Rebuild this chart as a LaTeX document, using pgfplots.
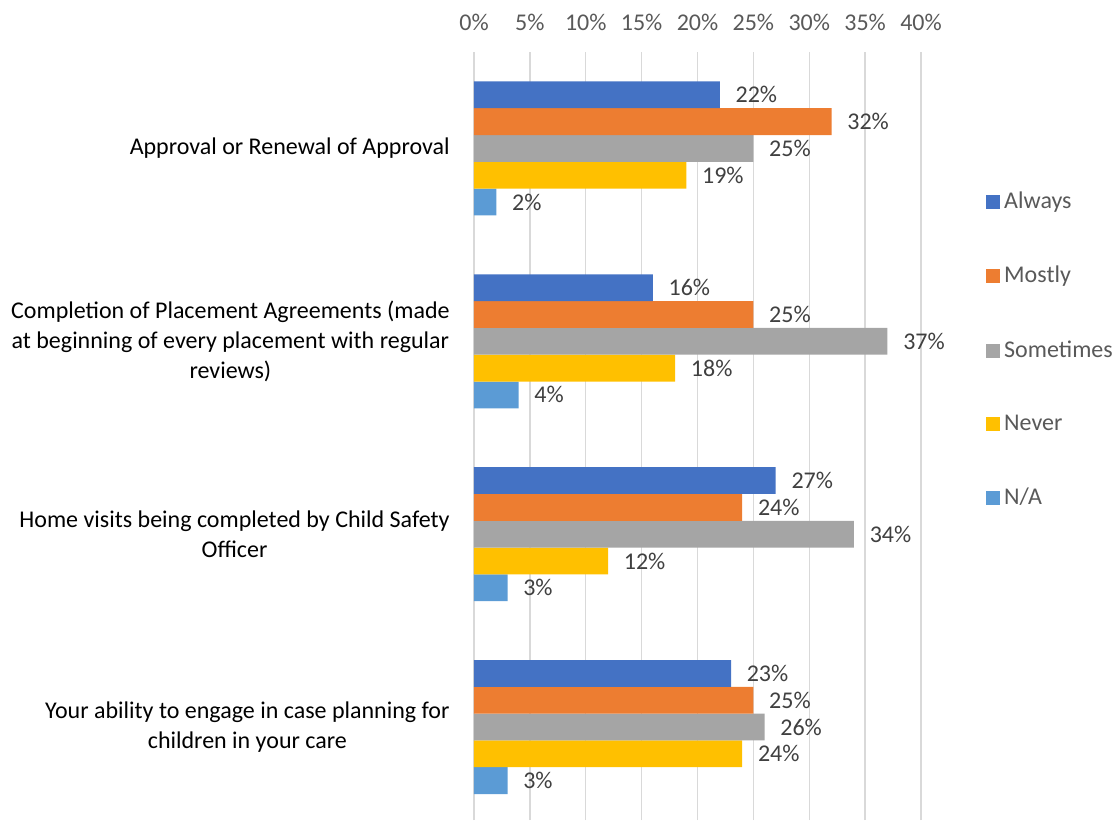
\documentclass[border=0pt]{standalone}
\usepackage{pgfplots}
\pgfplotsset{compat=1.18}
\usepackage{fontspec}
\setmainfont{Carlito}

\definecolor{cAlways}{HTML}{4472C4}
\definecolor{cMostly}{HTML}{ED7D31}
\definecolor{cSometimes}{HTML}{A5A5A5}
\definecolor{cNever}{HTML}{FFC000}
\definecolor{cNA}{HTML}{5B9BD5}
\definecolor{gridgray}{HTML}{D9D9D9}
\definecolor{tickgray}{HTML}{595959}
\definecolor{labelgray}{HTML}{404040}

\newcommand\cf{\fontsize{12}{15}\selectfont}

% square legend swatch
\pgfplotsset{sqleg/.style={legend image code/.code={\fill[##1] (0pt,-3.5pt) rectangle (7pt,3.5pt);}}}

\begin{document}
\cf
\begin{tikzpicture}
\path[use as bounding box] (-237pt,0pt) rectangle (321.5pt,410pt);
\begin{axis}[
    at={(0pt,0pt)}, anchor=south west,
    scale only axis, width=223.5pt, height=384pt,
    xbar=0pt, bar width=13.4pt,
    xmin=0, xmax=40, ymin=-0.482, ymax=3.5,
    axis line style={draw=none},
    xmajorgrids,
    major grid style={color=gridgray, line width=0.75pt},
    major tick length=0pt,
    xtick={0,5,...,40},
    xticklabel={\pgfmathprintnumber{\tick}\%},
    xticklabel pos=upper,
    xticklabel style={text=tickgray, font=\cf, yshift=6.5pt},
    ytick={0,1,2,3},
    yticklabels={{Your ability to engage in case planning for\\children in your care},
                 {Home visits being completed by Child Safety\\Officer},
                 {Completion of Placement Agreements (made\\at beginning of every placement with regular\\reviews)},
                 {Approval or Renewal of Approval}},
    yticklabel style={align=center, text=black, font=\cf, xshift=-8pt},
    /pgf/number format/assume math mode=true,
    point meta=x,
    nodes near coords={\pgfmathprintnumber{\pgfplotspointmeta}\%},
    every node near coord/.append style={anchor=west, xshift=3.7pt, text=labelgray, font=\cf},
    reverse legend,
    legend cell align=left,
    legend style={at={(1.145,0.612)}, anchor=west, draw=none, fill=none,
                  inner sep=0pt, row sep=23pt, font=\cf, text=tickgray},
]
% categories: 3 = Approval, 2 = Completion, 1 = Home visits, 0 = Case planning
\addplot[fill=cNA, draw=none, sqleg] coordinates {(2,3) (4,2) (3,1) (3,0)};
\addplot[fill=cNever, draw=none, sqleg] coordinates {(19,3) (18,2) (12,1) (24,0)};
\addplot[fill=cSometimes, draw=none, sqleg] coordinates {(25,3) (37,2) (34,1) (26,0)};
\addplot[fill=cMostly, draw=none, sqleg] coordinates {(32,3) (25,2) (24,1) (25,0)};
\addplot[fill=cAlways, draw=none, sqleg] coordinates {(22,3) (16,2) (27,1) (23,0)};
\legend{N/A, Never, Sometimes, Mostly, Always}
\end{axis}
\end{tikzpicture}
\end{document}
